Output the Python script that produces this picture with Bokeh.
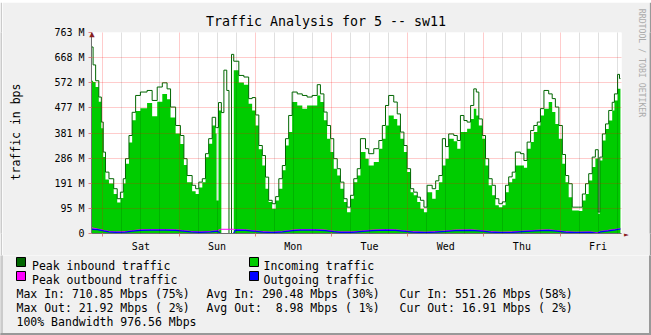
from math import pi
from bokeh.plotting import figure
from bokeh.layouts import column, row
from bokeh.models import Range1d, FixedTicker, Grid, Label
from bokeh.core.properties import value
from bokeh.embed import file_html
from bokeh.resources import INLINE

# ---------------- data (hours since start of graph, values in M bit/s) ----------------
in_time = [0.0, 0.5, 1.3, 2.3, 3.1, 3.7, 4.4, 5.5, 7.0, 8.1, 9.1, 10.0, 10.7, 11.8, 12.8, 13.9,
           15.4, 17.5, 19.1, 20.7, 22.3, 23.8, 24.9, 26.5, 28.0, 29.1, 30.1, 31.7, 32.8, 33.8,
           34.9, 35.9, 36.9, 38.0, 39.1, 39.4, 40.0, 40.9, 41.7, 42.6, 43.3, 44.1, 44.8, 46.4,
           48.0, 49.5, 50.6, 51.7, 52.7, 53.8, 54.8, 55.8, 56.9, 58.0, 59.0, 60.1, 61.1, 62.1,
           63.2, 64.8, 66.4, 67.9, 69.5, 71.1, 72.1, 73.2, 74.2, 75.3, 76.3, 77.4, 78.4, 79.5,
           80.5, 81.6, 82.6, 83.7, 84.7, 86.3, 87.3, 88.9, 90.5, 91.6, 92.6, 93.6, 95.2, 96.3,
           97.3, 98.4, 99.4, 100.5, 101.5, 102.6, 103.6, 104.7, 105.7, 107.3, 108.4, 109.4,
           110.5, 111.5, 112.5, 114.1, 115.2, 116.2, 117.3, 118.3, 119.4, 120.4, 121.2, 122.0,
           123.1, 124.1, 125.1, 126.2, 127.2, 128.3, 129.4, 130.4, 131.4, 132.5, 133.5, 135.1,
           136.2, 137.2, 138.3, 139.3, 140.4, 141.4, 142.5, 144.0, 145.1, 146.1, 147.2, 148.3,
           149.3, 150.3, 151.4, 153.5, 154.6, 155.6, 156.6, 157.7, 158.7, 159.6, 160.1, 160.9,
           161.9, 162.9, 164.0, 164.7, 165.7, 166.3, 166.6]
peak_in = [708, 640, 580, 518, 423, 309, 233, 208, 170, 132, 157, 208, 284, 372, 460, 524,
           537, 543, 505, 556, 572, 549, 480, 410, 372, 284, 220, 183, 170, 195,
           208, 303, 360, 441, 402, 402, 497, 459, 620, 543, 0, 680, 654, 600,
           594, 512, 516, 450, 334, 296, 214, 126, 113, 140, 208, 258, 360, 448,
           537, 530, 524, 518, 524, 565, 530, 461, 410, 360, 284, 246, 195, 132,
           100, 145, 208, 246, 360, 322, 303, 322, 353, 410, 486, 524, 499, 454,
           385, 334, 246, 170, 157, 138, 126, 100, 183, 170, 200, 220,
           360, 330, 378, 372, 353, 448, 429, 423, 486, 549, 537, 435,
           372, 284, 208, 183, 132, 113, 120, 183, 215, 233, 309, 303,
           277, 347, 391, 410, 423, 474, 543, 530, 512, 480, 410, 300,
           220, 189, 100, 100, 150, 189, 227, 290, 318, 81, 290, 378,
           416, 467, 498, 530, 604, 588, 588]
incoming = [580, 575, 556, 500, 400, 290, 205, 190, 150, 118, 135, 190, 265, 345, 430, 465,
            475, 495, 445, 500, 530, 510, 440, 380, 340, 260, 195, 160, 150, 175,
            195, 289, 341, 410, 380, 125, 467, 0, 0, 0, 0, 0, 620, 573,
            565, 493, 467, 410, 320, 258, 170, 120, 94, 125, 170, 240, 334, 385,
            499, 486, 474, 486, 486, 524, 499, 430, 360, 309, 246, 220, 170, 120,
            81, 132, 195, 220, 309, 284, 258, 271, 322, 360, 410, 448, 435, 410,
            360, 309, 233, 157, 145, 120, 94, 81, 157, 132, 165, 195,
            258, 284, 360, 350, 322, 385, 385, 398, 435, 474, 448, 410,
            360, 258, 183, 145, 107, 100, 107, 157, 195, 208, 258, 258,
            250, 322, 347, 385, 410, 448, 474, 499, 461, 416, 360, 265,
            195, 138, 87, 85, 125, 150, 201, 252, 285, 75, 277, 353,
            397, 429, 467, 505, 549, 549, 549]

out_time = [0.0, 1.9, 3.8, 5.4, 7.6, 10.7, 12.9, 15.4, 18.6, 23.3, 26.5, 29.0, 31.2, 34.3, 37.5,
            39.7, 40.6, 44.7, 45.4, 48.5, 51.7, 53.9, 57.0, 60.2, 63.3, 65.8, 70.6, 73.7, 76.2,
            78.4, 82.2, 85.4, 88.5, 92.6, 95.7, 98.9, 101.1, 105.2, 108.3, 111.5, 114.6, 119.4,
            123.1, 125.7, 128.8, 132.6, 135.7, 139.8, 143.9, 146.5, 149.3, 152.4, 157.2, 159.4,
            160.3, 162.8, 165.0, 166.6]
outgoing = [16, 15, 10, 6, 4, 5, 9, 12, 13, 13, 12, 9, 6, 4, 6,
            9, 0, 0, 13, 12, 8, 5, 3, 6, 11, 13, 13, 11, 7,
            4, 4, 8, 11, 13, 12, 8, 5, 3, 5, 8, 11, 12,
            9, 5, 3, 4, 7, 10, 12, 9, 5, 3, 4, 1,
            6, 10, 14, 17]
peak_out = [22, 17, 12, 8, 6, 7, 11, 14, 15, 15, 14, 11, 8, 6, 8,
            11, 16, 16, 15, 14, 10, 7, 5, 8, 13, 15, 15, 13, 9,
            6, 6, 10, 13, 15, 14, 10, 7, 5, 7, 10, 13, 14,
            11, 7, 5, 6, 9, 12, 14, 11, 7, 5, 6, 3,
            8, 12, 16, 18]

day_names = ["Sat", "Sun", "Mon", "Tue", "Wed", "Thu", "Fri"]
first_midnight = 3.56          # hours after graph start
y_max = 763
y_tick_labels = ["0", "95 M", "191 M", "286 M", "381 M", "477 M", "572 M", "668 M", "763 M"]

title_text = "Traffic Analysis for 5 -- sw11"
y_title = "traffic in bps"
credit = "RRDTOOL / TOBI OETIKER"
legend_names = ["Peak inbound traffic", "Incoming traffic", "Peak outbound traffic", "Outgoing traffic"]
legend_colors = ["#006600", "#00CC00", "#FF00FF", "#0000FF"]
stats_rows = [
    ["Max In: 710.85 Mbps (75%)", "Avg In: 290.48 Mbps (30%)", "Cur In: 551.26 Mbps (58%)"],
    ["Max Out: 21.92 Mbps ( 2%)", "Avg Out:\u00a0 8.98 Mbps ( 1%)", "Cur Out: 16.91 Mbps ( 2%)"],
    ["100% Bandwidth 976.56 Mbps"],
]

# ---------------- styling constants ----------------
FONT = "DejaVu Sans Mono"
W, H = 651, 335
BG = "#F0F0F0"
SHADE_A = "#CBCBCB"
SHADE_B = "#999999"
ARROW = "#8B1E1E"
BEV = 2
MAIN_H = 253
LEG_H = H - BEV - MAIN_H
span = 530 / 3.175


def strip(w, h, color):
    s = figure(width=w, height=h, output_backend="svg", toolbar_location=None,
               x_axis_type=None, y_axis_type=None, min_border=0,
               x_range=Range1d(0, 1), y_range=Range1d(0, 1))
    s.background_fill_color = color
    s.border_fill_color = color
    s.outline_line_color = None
    s.grid.visible = False
    return s


# ---------------- main chart ----------------
p = figure(width=W - 2 * BEV, height=MAIN_H, output_backend="svg", toolbar_location=None,
           x_range=Range1d(0, span), y_range=Range1d(0, y_max),
           min_border_left=91 - BEV, min_border_right=30 - BEV, min_border_top=32 - BEV,
           min_border_bottom=MAIN_H - 201 - (32 - BEV))
p.background_fill_color = "#FFFFFF"
p.border_fill_color = BG
p.outline_line_color = None
p.grid.grid_line_color = None

p.varea_step(x=in_time, y1=0, y2=incoming, step_mode="after", fill_color="#00CC00")
p.step(x=in_time, y=peak_in, mode="after", line_color="#006600", line_width=1)
p.line(x=out_time, y=peak_out, line_color="#FF00FF", line_width=1)
p.line(x=out_time, y=outgoing, line_color="#0000FF", line_width=1.2)

midnights = [first_midnight + 24 * k for k in range(7)]
noons = [m + 12 for m in midnights]
six_hours = [first_midnight + 6 * k for k in range(28) if k % 4 != 0 and first_midnight + 6 * k < span]
y_ticks = [y_max * k / 8 for k in range(9)]

for g in (Grid(dimension=0, ticker=FixedTicker(ticks=six_hours), grid_line_color="#000000",
               grid_line_alpha=0.12, level="overlay"),
          Grid(dimension=0, ticker=FixedTicker(ticks=midnights), grid_line_color="#FF0000",
               grid_line_alpha=0.2, level="overlay"),
          Grid(dimension=1, ticker=FixedTicker(ticks=y_ticks[1:]), grid_line_color="#FF0000",
               grid_line_alpha=0.2, level="overlay")):
    p.add_layout(g)

xa = p.xaxis[0]
xa.ticker = FixedTicker(ticks=noons, minor_ticks=midnights)
xa.major_label_overrides = {n: d for n, d in zip(noons, day_names)}
xa.major_tick_line_color = None
xa.major_tick_in = 0
xa.major_tick_out = 0
xa.minor_tick_in = 0
xa.minor_tick_out = 3
xa.minor_tick_line_color = "#E08080"
xa.axis_line_color = "#707070"
xa.major_label_text_font = FONT
xa.major_label_text_font_size = "10px"
xa.major_label_text_color = "#000000"
xa.major_label_standoff = 4

ya = p.yaxis[0]
ya.ticker = FixedTicker(ticks=y_ticks)
ya.major_label_overrides = {t: l for t, l in zip(y_ticks, y_tick_labels)}
ya.major_tick_in = 0
ya.major_tick_out = 3
ya.major_tick_line_color = "#E08080"
ya.minor_tick_line_color = None
ya.axis_line_color = "#707070"
ya.major_label_text_font = FONT
ya.major_label_text_font_size = "10px"
ya.major_label_text_color = "#000000"
ya.major_label_standoff = 4


def lab(x, y, s, side, size="11.5px", color="#000000", align="left", baseline="alphabetic", angle=0.0):
    # x, y are pixel positions on the whole picture; this canvas starts BEV px in
    p.add_layout(Label(x=x - BEV, y=y - BEV, x_units="canvas", y_units="canvas", text=s,
                       text_font=FONT, text_font_size=size, text_color=color,
                       text_align=align, text_baseline=baseline, angle=angle), side)


lab(325.5, 20.5, title_text, "above", size="13.3px", align="center")
lab(15, 131.5, y_title, "left", size="11.5px", align="center", baseline="middle", angle=pi / 2)
lab(641, 62.5, credit, "right", size="8.2px", color="#ABABAB", align="center", baseline="middle",
    angle=-pi / 2)
lab(91.5, 33, "\u25b2", "above", size="9px", color=ARROW, align="center", baseline="alphabetic")
lab(626, 233.5, "\u25ba", "right", size="8px", color=ARROW, align="center", baseline="middle")

# ---------------- legend area (pixel coordinates of the whole picture) ----------------
L = figure(width=W, height=LEG_H, output_backend="svg", toolbar_location=None,
           x_axis_type=None, y_axis_type=None, min_border=0,
           x_range=Range1d(0, W), y_range=Range1d(H, H - LEG_H))
L.background_fill_color = BG
L.border_fill_color = BG
L.outline_line_color = None
L.grid.visible = False

L.quad(left=[0], right=[BEV], top=[H - LEG_H], bottom=[H], color=SHADE_A)
L.quad(left=[W - BEV, 0], right=[W, W], top=[H - LEG_H, H - BEV], bottom=[H, H], color=SHADE_B)

sw_left = [16 if i % 2 == 0 else 249 for i in range(4)]
sw_top = [257 + 14 * (i // 2) for i in range(4)]
L.quad(left=sw_left, right=[v + 9 for v in sw_left], top=sw_top, bottom=[v + 9 for v in sw_top],
       fill_color=legend_colors, line_color="#000000", line_width=1)
L.text(x=[31.5 if i % 2 == 0 else 263 for i in range(4)],
       y=[265.4 + 14 * (i // 2) for i in range(4)], text=legend_names,
       text_font=value(FONT), text_font_size=value("11.5px"), text_color="#000000",
       text_baseline="alphabetic")

col_x = [16, 206, 399]
sx, sy, st = [], [], []
for r, items in enumerate(stats_rows):
    for c, s in enumerate(items):
        sx.append(col_x[c])
        sy.append(293.4 + 14 * r)
        st.append(s)
L.text(x=sx, y=sy, text=st, text_font=value(FONT), text_font_size=value("11.5px"),
       text_color="#000000", text_baseline="alphabetic")

layout = column(strip(W, BEV, SHADE_A),
                row(strip(BEV, MAIN_H, SHADE_A), p, strip(BEV, MAIN_H, SHADE_B)),
                L)

open("out.html", "w").write(file_html(layout, INLINE))
